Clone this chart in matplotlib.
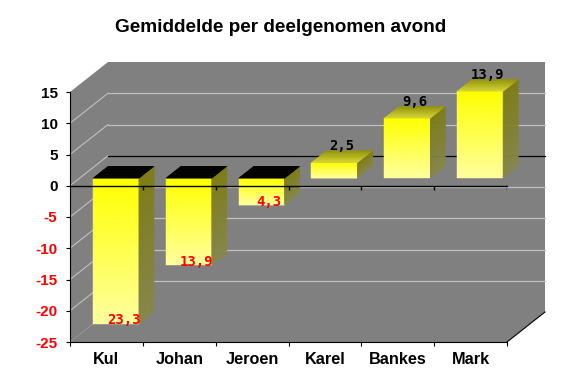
import numpy as np
import matplotlib
matplotlib.use("Agg")
from matplotlib import pyplot as plt
from matplotlib.patches import Polygon
from matplotlib.collections import PolyCollection

# data
players = ["Kul", "Johan", "Jeroen", "Karel", "Bankes", "Mark"]
averages = [-23.3, -13.9, -4.3, 2.5, 9.6, 13.9]
yticks = [-25, -20, -15, -10, -5, 0, 5, 10, 15]
title = "Gemiddelde per deelgenomen avond"

plt.rcParams['font.family'] = ['Liberation Sans', 'DejaVu Sans']

W, H = 577, 391
fig = plt.figure(figsize=(W / 100, H / 100), dpi=100)
fig.patch.set_facecolor("white")

# front plane of the 3d box, in pixels
left, right, bottom, top = 70, 507, 342, 92
ax = fig.add_axes([left / W, (H - bottom) / H, (right - left) / W, (bottom - top) / H])
ax.set_xlim(0, 6)
ax.set_ylim(-25, 15)
ax.patch.set_visible(False)

# depth of the box (38 px right, 30 px up) in data units
DX = 38 / ((right - left) / 6)
DY = 30 / ((bottom - top) / 40)
F1, F2, FM = 0.25, 0.65, 0.45   # bar front, bar back, label depth
BW = 0.63

def p(x, y, d):
    return (x + d * DX, y + d * DY)

wall = "#808080"
grid = "#c0c0c0"
ymin, ymax = -25, 15

# walls and floor
ax.add_patch(Polygon([p(0, ymin, 0), p(0, ymax, 0), p(0, ymax, 1), p(0, ymin, 1)],
                     closed=True, fc=wall, ec="none", zorder=0, clip_on=False))
ax.add_patch(Polygon([p(0, ymin, 1), p(0, ymax, 1), p(6, ymax, 1), p(6, ymin, 1)],
                     closed=True, fc=wall, ec="none", zorder=0, clip_on=False))
ax.add_patch(Polygon([p(0, ymin, 0), p(6, ymin, 0), p(6, ymin, 1), p(0, ymin, 1)],
                     closed=True, fc=wall, ec="none", zorder=0, clip_on=False))
ax.plot(*zip(p(6, ymin, 0), p(6, ymin, 1)), color="black", lw=0.8, zorder=1, clip_on=False)

# gridlines on the left and back wall
for v in yticks[1:-1]:
    c = "black" if v == 0 else grid
    ax.plot(*zip(p(0, v, 0), p(0, v, 1)), color=grid, lw=0.8, zorder=1, clip_on=False)
    ax.plot(*zip(p(0, v, 1), p(6, v, 1)), color=c, lw=0.9, zorder=1, clip_on=False)

def strips(corners, n, colors):
    # corners: function t -> polygon of strip t..t+dt
    polys = [corners(i / n, (i + 1) / n) for i in range(n)]
    return PolyCollection(polys, facecolors=colors, edgecolors=colors,
                          linewidths=0.3, zorder=3, clip_on=False)

def blend(c0, c1, n):
    t = np.linspace(0, 1, n)[:, None]
    return (1 - t) * np.array(c0) + t * np.array(c1)

N = 50
yel = (1.0, 1.0, 0.0)
pale = (1.0, 1.0, 0.62)
for i, v in enumerate(averages):
    x0 = i + 0.5 - BW / 2
    x1 = i + 0.5 + BW / 2
    hi, lo = max(v, 0), min(v, 0)

    # front face, yellow at top to pale at bottom
    def front(a, b, x0=x0, x1=x1, hi=hi, lo=lo):
        ya = hi + (lo - hi) * a
        yb = hi + (lo - hi) * b
        return [p(x0, ya, F1), p(x1, ya, F1), p(x1, yb, F1), p(x0, yb, F1)]
    ax.add_collection(strips(front, N, blend(yel, pale, N)))

    # right side face
    def side(a, b, x1=x1, hi=hi, lo=lo):
        ya = hi + (lo - hi) * a
        yb = hi + (lo - hi) * b
        return [p(x1, ya, F1), p(x1, ya, F2), p(x1, yb, F2), p(x1, yb, F1)]
    ax.add_collection(strips(side, N, blend((0.49, 0.49, 0.08), (0.53, 0.53, 0.30), N)))

    # top face
    def topf(a, b, x0=x0, x1=x1, hi=hi):
        da = F2 + (F1 - F2) * a
        db = F2 + (F1 - F2) * b
        return [p(x0, hi, da), p(x1, hi, da), p(x1, hi, db), p(x0, hi, db)]
    if v > 0:
        cols = blend((0.58, 0.58, 0.04), (0.84, 0.84, 0.2), 20)
    else:
        cols = blend((0, 0, 0), (0, 0, 0), 20)
    ax.add_collection(strips(topf, 20, cols))

    # value labels
    txt = f"{abs(v):.1f}".replace(".", ",")
    lx, ly = p(i + 0.5, v, FM)
    if v > 0:
        ax.text(lx, ly + 0.5, txt, ha="center", va="bottom", color="black",
                family="DejaVu Sans Mono", weight="bold", fontsize=10, zorder=6)
    else:
        ax.text(lx, ly - 0.4, txt, ha="center", va="center", color="red",
                family="DejaVu Sans Mono", weight="bold", fontsize=10, zorder=6)

# category axis at zero, drawn over the bars
ax.plot([0, 6], [0, 0], color="black", lw=1, zorder=5, clip_on=False)
ax.vlines(np.arange(1, 7), -0.6, 0, color="black", lw=1, zorder=5)

# axes
for s in ["top", "right"]:
    ax.spines[s].set_visible(False)
for s in ["left", "bottom"]:
    ax.spines[s].set_zorder(5)
ax.set_yticks(yticks)
ax.set_yticklabels([str(t) for t in yticks], fontsize=11, weight="bold")
for lab, t in zip(ax.get_yticklabels(), yticks):
    lab.set_color("red" if t < 0 else "black")
ax.tick_params(axis="y", direction="out", length=3, pad=6)
ax.set_xticks(np.arange(0, 7))
ax.set_xticklabels([])
ax.set_xticks(np.arange(6) + 0.5, minor=True)
ax.set_xticklabels(players, minor=True, fontsize=11.7, weight="bold")
ax.tick_params(axis="x", which="major", direction="out", length=3)
ax.tick_params(axis="x", which="minor", length=0, pad=7)

fig.text(281 / W, 1 - 28 / H, title, ha="center", va="center",
         fontsize=13.7, weight="bold")

fig.savefig("out.png", dpi=100)
